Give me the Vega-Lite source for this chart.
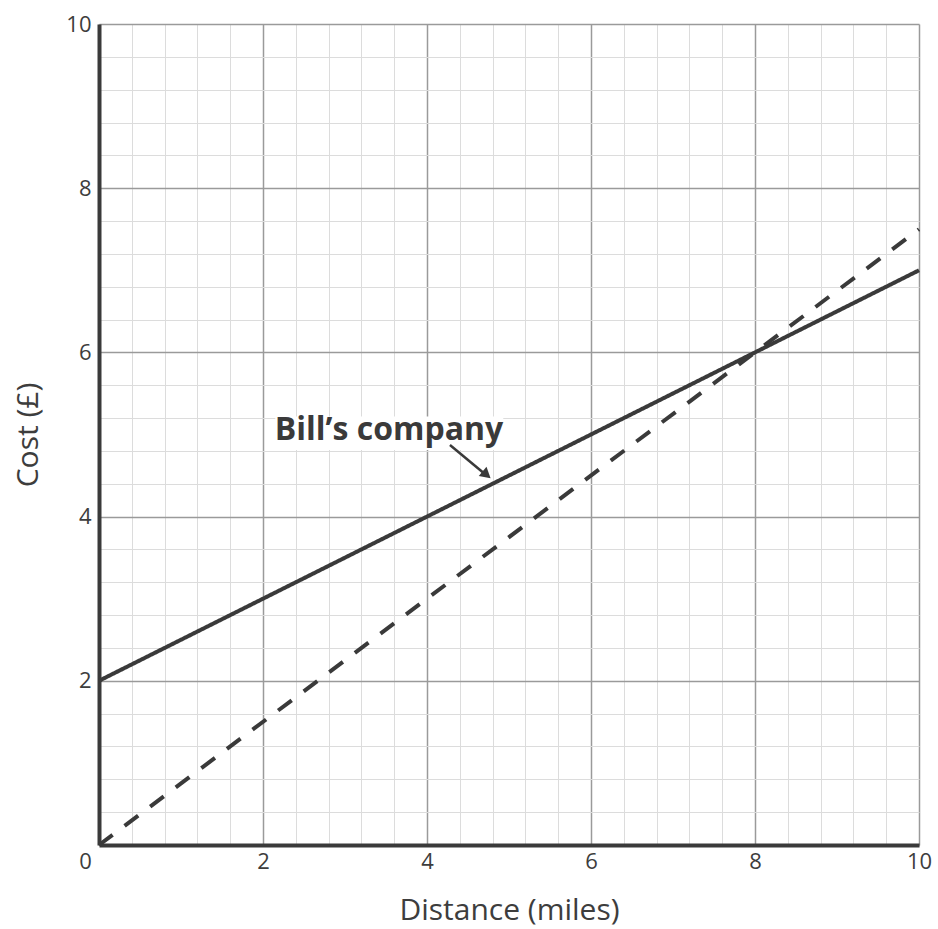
{
  "$schema": "https://vega.github.io/schema/vega-lite/v6.json",
  "width": 820,
  "height": 821,
  "autosize": {"type": "none"},
  "padding": {"left": 99, "top": 24, "right": 19, "bottom": 84},
  "background": "white",
  "config": {"view": {"stroke": null}, "font": "Open Sans"},
  "encoding": {
    "x": {
      "field": "x", "type": "quantitative",
      "scale": {"domain": [0, 10], "nice": false, "zero": false},
      "axis": {
        "title": "Distance (miles)",
        "values": [0, 0.4, 0.8, 1.2, 1.6, 2, 2.4, 2.8, 3.2, 3.6, 4, 4.4, 4.8, 5.2, 5.6, 6, 6.4, 6.8, 7.2, 7.6, 8, 8.4, 8.8, 9.2, 9.6, 10],
        "grid": true,
        "gridColor": {"condition": {"test": "datum.value % 2 == 0", "value": "#9a9a9a"}, "value": "#dcdcdc"},
        "gridWidth": {"condition": {"test": "datum.value % 2 == 0", "value": 1.5}, "value": 1},
        "ticks": false,
        "domainColor": "#3a3a3a",
        "domainWidth": 4,
        "labelExpr": "datum.value % 2 == 0 ? '' + datum.value : ''",
        "labelFont": "Open Sans",
        "labelFontSize": 22,
        "labelColor": "#3d3d3d",
        "labelPadding": 6,
        "labelOffset": {"condition": {"test": "datum.value == 0", "value": -14}, "value": 0},
        "labelFlush": false,
        "labelOverlap": false,
        "labelBound": false,
        "titleFont": "Open Sans",
        "titleFontSize": 30,
        "titleFontWeight": "normal",
        "titleColor": "#3d3d3d",
        "titlePadding": 23
      }
    },
    "y": {
      "field": "y", "type": "quantitative",
      "scale": {"domain": [0, 10], "nice": false, "zero": false},
      "axis": {
        "title": "Cost (£)",
        "values": [0, 0.4, 0.8, 1.2, 1.6, 2, 2.4, 2.8, 3.2, 3.6, 4, 4.4, 4.8, 5.2, 5.6, 6, 6.4, 6.8, 7.2, 7.6, 8, 8.4, 8.8, 9.2, 9.6, 10],
        "grid": true,
        "gridColor": {"condition": {"test": "datum.value % 2 == 0", "value": "#9a9a9a"}, "value": "#dcdcdc"},
        "gridWidth": {"condition": {"test": "datum.value % 2 == 0", "value": 1.5}, "value": 1},
        "ticks": false,
        "domainColor": "#3a3a3a",
        "domainWidth": 4,
        "labelExpr": "datum.value % 2 == 0 && datum.value > 0 ? '' + datum.value : ''",
        "labelFont": "Open Sans",
        "labelFontSize": 22,
        "labelColor": "#3d3d3d",
        "labelPadding": 8,
        "labelFlush": false,
        "labelOverlap": false,
        "labelBound": false,
        "titleFont": "Open Sans",
        "titleFontSize": 30,
        "titleFontWeight": "normal",
        "titleColor": "#3d3d3d",
        "titlePadding": 22
      }
    }
  },
  "layer": [
    {
      "data": {"values": [
        {"company": "Bill’s company", "x": 0, "y": 2},
        {"company": "Bill’s company", "x": 10, "y": 7},
        {"company": "Other company", "x": 0, "y": 0},
        {"company": "Other company", "x": 10, "y": 7.5}
      ]},
      "mark": {"type": "line", "color": "#3a3a3a", "strokeWidth": 4, "strokeCap": "butt"},
      "encoding": {
        "strokeDash": {
          "field": "company", "type": "nominal",
          "scale": {"domain": ["Bill’s company", "Other company"], "range": [[1, 0], [17, 15]]},
          "legend": null
        }
      }
    },
    {
      "data": {"values": [{"x": 2.15, "x2": 4.93, "y": 4.81, "y2": 5.22}]},
      "mark": {"type": "rect", "fill": "white"},
      "encoding": {
        "x2": {"field": "x2"},
        "y2": {"field": "y2"}
      }
    },
    {
      "data": {"values": [{"label": "Bill’s company", "x": 3.537, "y": 4.93}]},
      "mark": {"type": "text", "font": "Open Sans", "fontSize": 32, "fontWeight": "bold", "color": "#3a3a3a", "align": "center", "baseline": "alphabetic"},
      "encoding": {
        "text": {"field": "label"}
      }
    },
    {
      "data": {"values": [{"x": 4.28, "y": 4.872, "x2": 4.68, "y2": 4.54}]},
      "mark": {"type": "rule", "color": "#3a3a3a", "strokeWidth": 2.5},
      "encoding": {
        "x2": {"field": "x2"},
        "y2": {"field": "y2"}
      }
    },
    {
      "data": {"values": [{"x": 4.727, "y": 4.509}]},
      "mark": {"type": "point", "shape": "triangle-up", "filled": true, "size": 144, "angle": 130, "color": "#3a3a3a", "opacity": 1, "strokeWidth": 0}
    }
  ]
}
